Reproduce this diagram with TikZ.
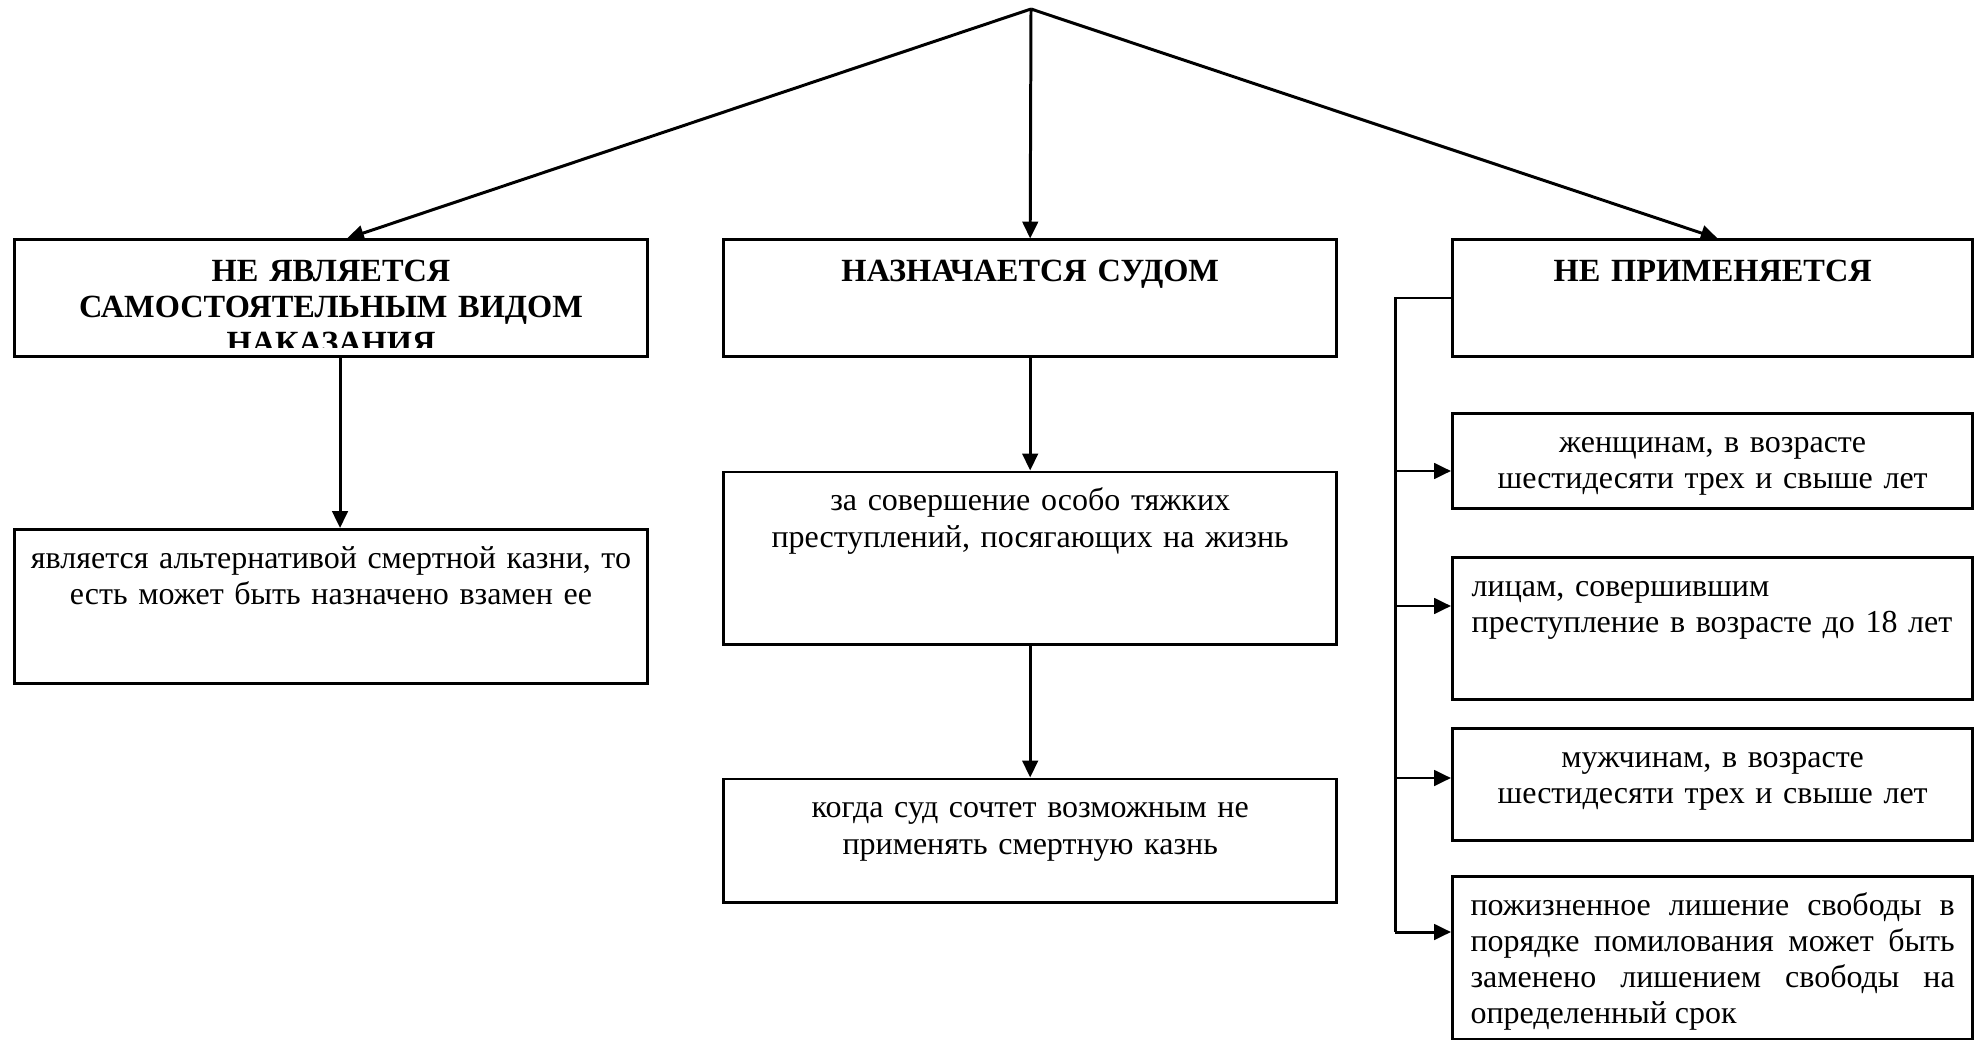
\documentclass[tikz,border=0pt]{standalone}
\usepackage{fontspec}
\setmainfont{Liberation Serif}
\usetikzlibrary{arrows.meta}

\tikzset{
  box/.style={draw, line width=0.85pt, rectangle, inner sep=0pt, anchor=north west},
  txt/.style={anchor=north, inner sep=0pt, align=center, font=\fontsize{9.1}{10.4}\selectfont},
  head/.style={txt, font=\fontsize{9.2}{10.2}\selectfont\bfseries},
  arr/.style={line width=0.85pt, -{Triangle[length=4.8pt,width=4.4pt]}},
  ln/.style={line width=0.85pt}
}

\begin{document}
\begin{tikzpicture}[x=0.01cm, y=-0.01cm]
\useasboundingbox (0,0) rectangle (1979,1040);

\node[box, minimum width=6.335cm, minimum height=1.16cm] (nevid) at (12.6,238.5) {};
\node[box, minimum width=6.13cm, minimum height=1.16cm] (sud) at (722,238.5) {};
\node[box, minimum width=5.2cm, minimum height=1.16cm] (neprim) at (1451,238.5) {};

\node[box, minimum width=6.335cm, minimum height=1.54cm] (alt) at (12.6,528) {};
\node[box, minimum width=6.13cm, minimum height=1.72cm] (tyazh) at (722,470.5) {};
\node[box, minimum width=6.13cm, minimum height=1.235cm] (kogda) at (722,777.5) {};

\node[box, minimum width=5.2cm, minimum height=0.95cm] (zhen) at (1451,411.7) {};
\node[box, minimum width=5.2cm, minimum height=1.42cm] (lica) at (1451,555.7) {};
\node[box, minimum width=5.2cm, minimum height=1.125cm] (muzh) at (1451,726.7) {};
\node[box, minimum width=5.2cm, minimum height=1.63cm] (pomil) at (1451,875) {};

\begin{scope}
\clip (nevid.north west) rectangle ([yshift=0.1cm]nevid.south east);
\node[head, text width=6cm] (nevidT) at ([yshift=-0.173cm]nevid.north) {\strut НЕ ЯВЛЯЕТСЯ\\ САМОСТОЯТЕЛЬНЫМ ВИДОМ\\ НАКАЗАНИЯ};
\end{scope}
\node[head, text width=5.8cm] (sudT) at ([yshift=-0.173cm]sud.north) {\strut НАЗНАЧАЕТСЯ СУДОМ};
\node[head, text width=4.84cm] (neprimT) at ([yshift=-0.173cm]neprim.north) {\strut НЕ ПРИМЕНЯЕТСЯ};

\node[txt, text width=6.1cm] (altT) at ([yshift=-0.14cm]alt.north) {\strut является альтернативой смертной казни, то\\ есть может быть назначено взамен ее};
\node[txt, text width=5.8cm] (tyazhT) at ([yshift=-0.14cm]tyazh.north) {\strut за совершение особо тяжких\\ преступлений, посягающих на жизнь};
\node[txt, text width=5.8cm] (kogdaT) at ([yshift=-0.14cm]kogda.north) {\strut когда суд сочтет возможным не\\ применять смертную казнь};

\node[txt, text width=4.84cm] (zhenT) at ([yshift=-0.14cm]zhen.north) {\strut женщинам, в возрасте\\ шестидесяти трех и свыше лет};
\node[txt, text width=4.95cm, align=left, anchor=north west] (licaT) at ([xshift=0.2cm, yshift=-0.14cm]lica.north west) {\strut лицам, совершившим\\ преступление в возрасте до 18 лет};
\node[txt, text width=4.84cm] (muzhT) at ([yshift=-0.14cm]muzh.north) {\strut мужчинам, в возрасте\\ шестидесяти трех и свыше лет};
\node[txt, text width=4.84cm, align=justify, font=\fontsize{9.1}{10.3}\selectfont] (pomilT) at ([yshift=-0.14cm]pomil.north) {\strut пожизненное лишение свободы в\linebreak порядке помилования может быть\linebreak заменено лишением свободы на\linebreak определенный срок};

\coordinate (top) at (1031,9);
\draw[arr] (top) -- ([xshift=0.16cm]nevid.north);
\draw[arr] (top) -- (sud.north);
\draw[arr] (top) -- ([xshift=0.05cm]neprim.north);
\draw[arr] ([xshift=0.09cm]nevid.south) -- ([xshift=0.09cm]alt.north);
\draw[arr] (sud.south) -- (tyazh.north);
\draw[arr] (tyazh.south) -- (kogda.north);

\coordinate (s1) at (1395,298);
\coordinate (s2) at (1395,471);
\coordinate (s3) at (1395,606);
\coordinate (s4) at (1395,778);
\coordinate (s5) at (1395,932);
\draw[ln] (s1 -| neprim.west) -- (s1) -- (s5);
\draw[arr] (s2) -- (s2 -| zhen.west);
\draw[arr] (s3) -- (s3 -| lica.west);
\draw[arr] (s4) -- (s4 -| muzh.west);
\draw[arr] (s5) -- (s5 -| pomil.west);

\end{tikzpicture}
\end{document}
